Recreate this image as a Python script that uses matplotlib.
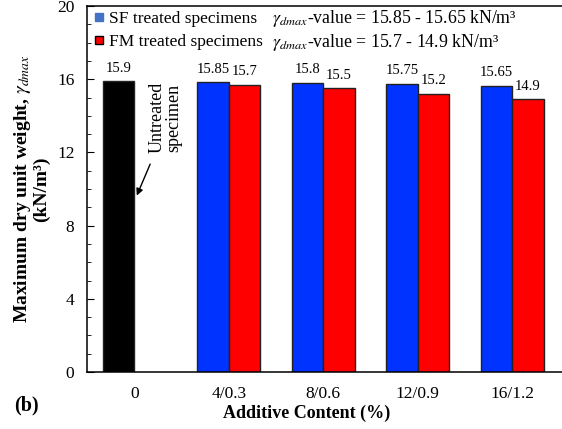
import numpy as np
import matplotlib
matplotlib.use('Agg')
import matplotlib.pyplot as plt
from matplotlib.lines import Line2D

plt.rcParams['font.family'] = ['Liberation Serif', 'DejaVu Serif']
plt.rcParams['mathtext.fontset'] = 'stix'

# data
categories = ['0', '4/0.3', '8/0.6', '12/0.9', '16/1.2']
untreated = [15.9]
sf_values = [15.85, 15.8, 15.75, 15.65]
fm_values = [15.7, 15.5, 15.2, 14.9]
sf_labels = ['15.85', '15.8', '15.75', '15.65']
fm_labels = ['15.7', '15.5', '15.2', '14.9']

fig = plt.figure(figsize=(5.62, 4.29), dpi=100)
ax = fig.add_axes([87 / 562, (429 - 372) / 429, (562 - 87) / 562, (372 - 6) / 429])

x = np.arange(len(categories))
w = 0.333
ec = '#222222'

ax.bar(x[0] - w / 2, untreated, w, color='black', edgecolor=ec, linewidth=1)
ax.bar(x[1:] - w / 2, sf_values, w, color='#0033ff', edgecolor=ec, linewidth=1)
ax.bar(x[1:] + w / 2, fm_values, w, color='#ff0000', edgecolor=ec, linewidth=1)

# value labels
ax.text(x[0] - w / 2, untreated[0] + 0.35, '15.9', ha='center', va='bottom', fontsize=10.5)
for i in range(len(sf_values)):
    ax.text(x[i + 1] - w / 2, sf_values[i] + 0.35, sf_labels[i], ha='center', va='bottom', fontsize=10.5)
    ax.text(x[i + 1] + w / 2, fm_values[i] + 0.35, fm_labels[i], ha='center', va='bottom', fontsize=10.5)

ax.set_xlim(-0.5, 4.526)
ax.set_ylim(0, 20)
ax.set_xticks(x)
ax.set_xticklabels(categories, fontsize=12.5)
ax.set_yticks(np.arange(0, 21, 4))
ax.set_yticks(np.arange(0, 21, 1), minor=True)
ax.tick_params(axis='y', which='major', direction='in', length=5, labelsize=12.5, pad=9)
ax.tick_params(axis='y', which='minor', direction='in', length=3)
ax.tick_params(axis='x', length=0, pad=10)
ax.spines['right'].set_visible(False)
for s in ['left', 'bottom', 'top']:
    ax.spines[s].set_linewidth(1.1)

ax.set_ylabel('Maximum dry unit weight, $\\gamma_{dmax}$\n(kN/m\u00b3)', fontsize=14,
              fontweight='bold', labelpad=5, linespacing=1.0)
fig.text(307 / 562, 1 - 413 / 429, 'Additive Content (%)', ha='center', va='center',
         fontsize=13, fontweight='bold')
fig.text(14 / 562, 1 - 405 / 429, '(b)', ha='left', va='center', fontsize=14.5, fontweight='bold')

# legend
handles = [Line2D([], [], marker='s', linestyle='none', markersize=5.5, color='#4472c4'),
           Line2D([], [], marker='s', linestyle='none', markersize=5.5, markerfacecolor='#ff0000',
                  markeredgecolor='black')]
ax.legend(handles, ['SF treated specimens', 'FM treated specimens'], loc='upper left',
          bbox_to_anchor=(-0.01, 1.02), frameon=False, fontsize=12.5, handlelength=0.5,
          handletextpad=0.35, labelspacing=0.4, borderaxespad=0.3)

ax.text(0.39, 0.967, '$\\gamma_{dmax}$-value = 15.85 - 15.65 kN/m\u00b3', transform=ax.transAxes,
        fontsize=12.8, va='center', ha='left')
ax.text(0.39, 0.9, '$\\gamma_{dmax}$-value = 15.7 - 14.9 kN/m\u00b3', transform=ax.transAxes,
        fontsize=12.8, va='center', ha='left')

# annotation for untreated bar
ax.annotate('', xy=(0.015, 9.5), xytext=(0.18, 11.5),
            arrowprops=dict(arrowstyle='-|>', color='black', lw=1, mutation_scale=10))
ax.text(0.33, 13.9, 'Untreated\nspecimen', rotation=90, ha='center', va='center',
        fontsize=13, linespacing=1.0)

fig.savefig('out.png', dpi=100)
